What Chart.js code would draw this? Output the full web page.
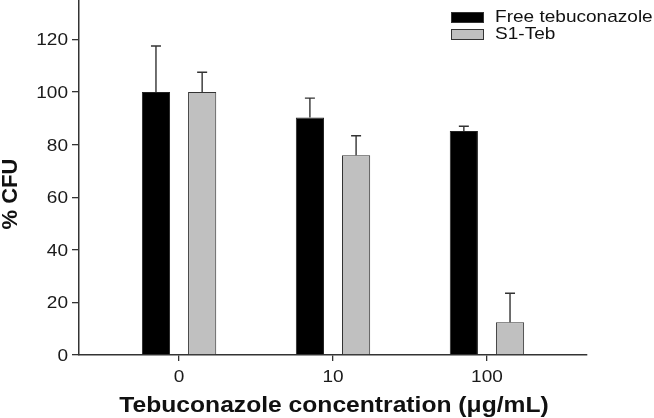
<!DOCTYPE html>
<html>
<head>
<meta charset="utf-8">
<script src="https://cdn.jsdelivr.net/npm/chart.js@4/dist/chart.umd.min.js"></script>
<style>
  html, body { margin: 0; padding: 0; background: #fff; }
  #wrap { width: 654px; height: 418px; position: relative; }
</style>
</head>
<body>
<div id="wrap"><canvas id="c" width="654" height="418"></canvas></div>
<script>
const categories = ['0', '10', '100'];
const seriesNames = ['Free tebuconazole', 'S1-Teb'];
const freeValues = [100, 90.3, 85.2];
const freeErrors = [17.5, 7.4, 1.8];
const s1Values = [100, 76, 12.5];
const s1Errors = [7.5, 7.4, 11];
const yTicks = [0, 20, 40, 60, 80, 100, 120];
const xTitle = 'Tebuconazole concentration (\u03bcg/mL)';
const yTitle = '% CFU';

const AXIS = '#333333';
const FONT = "'Liberation Sans', Arial, sans-serif";
const STRETCH = 1.12;

function stretchedText(ctx, text, x, y, align) {
  ctx.save();
  ctx.translate(x, y);
  ctx.scale(STRETCH, 1);
  ctx.textAlign = align;
  ctx.textBaseline = 'alphabetic';
  ctx.fillText(text, 0, 0);
  ctx.restore();
}

const errorBars = {
  id: 'errorBars',
  afterDatasetsDraw(chart) {
    const ctx = chart.ctx;
    const ys = chart.scales.y;
    chart.data.datasets.forEach((ds, di) => {
      const meta = chart.getDatasetMeta(di);
      meta.data.forEach((el, i) => {
        const v = ds.data[i].y, e = ds.errors[i];
        const yTop = ys.getPixelForValue(v + e);
        ctx.save();
        ctx.strokeStyle = AXIS;
        ctx.lineWidth = 1.4;
        ctx.beginPath();
        ctx.moveTo(el.x, el.y);
        ctx.lineTo(el.x, yTop);
        ctx.moveTo(el.x - 5, yTop);
        ctx.lineTo(el.x + 5, yTop);
        ctx.stroke();
        ctx.restore();
      });
    });
  }
};

const textLayer = {
  id: 'textLayer',
  afterDraw(chart) {
    const ctx = chart.ctx;
    const xs = chart.scales.x, ys = chart.scales.y;
    ctx.save();
    // tick labels
    ctx.fillStyle = '#1a1a1a';
    ctx.font = '17px ' + FONT;
    yTicks.forEach(v => {
      stretchedText(ctx, String(v), 68, ys.getPixelForValue(v) + 6, 'right');
    });
    categories.forEach((c, i) => {
      stretchedText(ctx, c, xs.getPixelForValue(i), 382, 'center');
    });
    // axis titles
    ctx.fillStyle = '#111';
    ctx.font = 'bold 22px ' + FONT;
    stretchedText(ctx, xTitle, (chart.chartArea.left + chart.chartArea.right) / 2 + 1, 412, 'center');
    ctx.save();
    ctx.translate(17, 194);
    ctx.rotate(-Math.PI / 2);
    ctx.textAlign = 'center';
    ctx.textBaseline = 'alphabetic';
    ctx.fillText(yTitle, 0, 0);
    ctx.restore();
    // legend
    ctx.font = '17px ' + FONT;
    chart.data.datasets.forEach((ds, i) => {
      const y = 12 + i * 17;
      ctx.fillStyle = ds.backgroundColor;
      ctx.fillRect(451, y, 33, 11);
      ctx.strokeStyle = AXIS;
      ctx.lineWidth = 1;
      ctx.strokeRect(451.5, y + 0.5, 32, 10);
      ctx.fillStyle = '#111';
      stretchedText(ctx, ds.label, 495, 22 + i * 16.5, 'left');
    });
    ctx.restore();
  }
};

new Chart(document.getElementById('c'), {
  type: 'bar',
  data: {
    datasets: [
      {
        label: seriesNames[0],
        data: categories.map((c, i) => ({ x: i, y: freeValues[i] })),
        errors: freeErrors,
        backgroundColor: '#000000',
        borderColor: '#222222',
        borderWidth: 1
      },
      {
        label: seriesNames[1],
        data: categories.map((c, i) => ({ x: i, y: s1Values[i] })),
        errors: s1Errors,
        backgroundColor: '#c0c0c0',
        borderColor: AXIS,
        borderWidth: 1
      }
    ]
  },
  options: {
    responsive: false,
    animation: false,
    events: [],
    categoryPercentage: 0.6,
    barPercentage: 0.61,
    layout: { padding: { left: 0, right: 67, top: 0, bottom: 0 } },
    plugins: { legend: { display: false }, tooltip: { enabled: false } },
    scales: {
      x: {
        type: 'linear',
        offset: false,
        min: -0.65,
        max: 2.65,
        afterBuildTicks(axis) { axis.ticks = categories.map((c, i) => ({ value: i })); },
        afterFit(scale) { scale.height = 63; scale.paddingLeft = 0; scale.paddingRight = 0; },
        grid: { display: true, offset: false, drawOnChartArea: false, drawTicks: true, tickLength: 6, color: AXIS, lineWidth: 1.3 },
        border: { display: true, color: AXIS, width: 1.5 },
        ticks: { display: false, autoSkip: false }
      },
      y: {
        min: 0,
        max: 135,
        afterBuildTicks(axis) { axis.ticks = yTicks.map(v => ({ value: v })); },
        afterFit(scale) { scale.width = 79; scale.paddingTop = 0; scale.paddingBottom = 0; },
        grid: { display: true, drawOnChartArea: false, drawTicks: true, tickLength: 7, color: AXIS, lineWidth: 1.3 },
        border: { display: true, color: AXIS, width: 1.5 },
        ticks: { display: false }
      }
    }
  },
  plugins: [errorBars, textLayer]
});
</script>
</body>
</html>
